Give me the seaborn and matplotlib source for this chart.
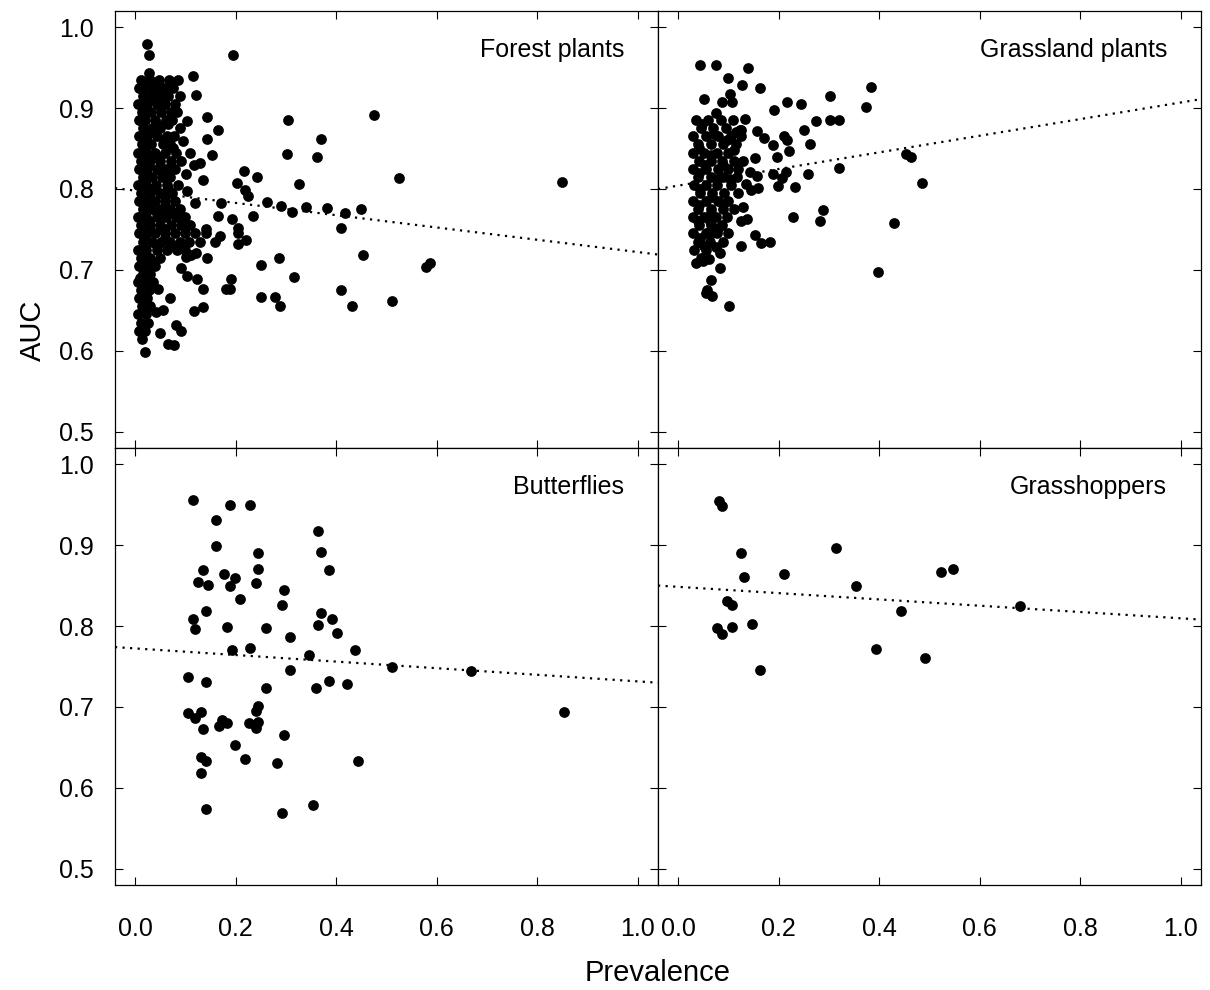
import numpy as np
import pandas as pd
import matplotlib
matplotlib.use("Agg")
import matplotlib.pyplot as plt
import seaborn as sns

# (prevalence, AUC)
forest_pts = [
    # dense column near zero prevalence
    (0.012, 0.935), (0.030, 0.935), (0.048, 0.935), (0.068, 0.935), (0.086, 0.935),
    (0.008, 0.925), (0.022, 0.925), (0.040, 0.925), (0.058, 0.925), (0.075, 0.925),
    (0.015, 0.915), (0.033, 0.915), (0.050, 0.915), (0.066, 0.915), (0.090, 0.915),
    (0.006, 0.905), (0.024, 0.905), (0.043, 0.905), (0.060, 0.905), (0.080, 0.905),
    (0.013, 0.895), (0.031, 0.895), (0.052, 0.895), (0.072, 0.895), (0.084, 0.895),
    (0.008, 0.885), (0.020, 0.885), (0.040, 0.885), (0.062, 0.885), (0.074, 0.885),
    (0.015, 0.875), (0.034, 0.875), (0.050, 0.875), (0.090, 0.875),
    (0.007, 0.865), (0.024, 0.865), (0.044, 0.865), (0.064, 0.865), (0.078, 0.865),
    (0.014, 0.855), (0.032, 0.855), (0.055, 0.855), (0.070, 0.855),
    (0.006, 0.845), (0.022, 0.845), (0.040, 0.845), (0.060, 0.845), (0.082, 0.845),
    (0.012, 0.835), (0.030, 0.835), (0.050, 0.835), (0.072, 0.835), (0.092, 0.835),
    (0.008, 0.825), (0.024, 0.825), (0.044, 0.825), (0.062, 0.825), (0.080, 0.825),
    (0.016, 0.815), (0.034, 0.815), (0.054, 0.815), (0.070, 0.815),
    (0.006, 0.805), (0.022, 0.805), (0.042, 0.805), (0.064, 0.805), (0.085, 0.805),
    (0.012, 0.795), (0.030, 0.795), (0.050, 0.795), (0.074, 0.795),
    (0.008, 0.785), (0.024, 0.785), (0.040, 0.785), (0.060, 0.785), (0.080, 0.785),
    (0.015, 0.775), (0.034, 0.775), (0.052, 0.775), (0.070, 0.775), (0.090, 0.775),
    (0.006, 0.765), (0.022, 0.765), (0.044, 0.765), (0.062, 0.765), (0.082, 0.765), (0.100, 0.765),
    (0.012, 0.755), (0.030, 0.755), (0.050, 0.755), (0.072, 0.755), (0.092, 0.755), (0.110, 0.755),
    (0.008, 0.745), (0.024, 0.745), (0.040, 0.745), (0.060, 0.745), (0.080, 0.745), (0.100, 0.745), (0.120, 0.745),
    (0.015, 0.735), (0.034, 0.735), (0.052, 0.735), (0.070, 0.735), (0.090, 0.735), (0.108, 0.735), (0.130, 0.735),
    (0.006, 0.725), (0.022, 0.725), (0.044, 0.725), (0.064, 0.725), (0.084, 0.725), (0.100, 0.725),
    (0.012, 0.715), (0.030, 0.715), (0.050, 0.715),
    (0.008, 0.705), (0.024, 0.705), (0.040, 0.705),
    (0.015, 0.695), (0.030, 0.695),
    (0.006, 0.685), (0.022, 0.685), (0.036, 0.685),
    (0.012, 0.675), (0.028, 0.675),
    (0.008, 0.665), (0.024, 0.665),
    (0.014, 0.655), (0.030, 0.655),
    (0.006, 0.645), (0.022, 0.645),
    (0.012, 0.635), (0.026, 0.635),
    (0.008, 0.625), (0.020, 0.625),
    (0.014, 0.615),
    # in-between points of the dense column
    (0.018, 0.930), (0.038, 0.920), (0.027, 0.910), (0.052, 0.900), (0.017, 0.890),
    (0.044, 0.880), (0.028, 0.870), (0.058, 0.860), (0.019, 0.850), (0.048, 0.840),
    (0.026, 0.830), (0.053, 0.820), (0.016, 0.810), (0.036, 0.800), (0.060, 0.790),
    (0.018, 0.780), (0.044, 0.770), (0.028, 0.760), (0.058, 0.750), (0.018, 0.740),
    (0.043, 0.730), (0.075, 0.730), (0.060, 0.740), (0.020, 0.720), (0.035, 0.710),
    (0.018, 0.700), (0.010, 0.690), (0.020, 0.670), (0.016, 0.650), (0.018, 0.630),
    (0.066, 0.880), (0.076, 0.850), (0.066, 0.800), (0.074, 0.770),
    # scattered points
    (0.023, 0.979), (0.028, 0.966), (0.194, 0.965), (0.028, 0.943), (0.116, 0.940),
    (0.122, 0.916), (0.144, 0.889), (0.305, 0.885), (0.475, 0.891), (0.104, 0.884),
    (0.165, 0.873), (0.095, 0.859), (0.143, 0.862), (0.370, 0.862), (0.109, 0.844),
    (0.154, 0.842), (0.302, 0.843), (0.361, 0.840), (0.129, 0.832), (0.216, 0.822),
    (0.242, 0.815), (0.203, 0.807), (0.327, 0.806), (0.135, 0.811), (0.219, 0.799),
    (0.225, 0.791), (0.104, 0.797), (0.120, 0.783), (0.171, 0.783), (0.262, 0.784),
    (0.290, 0.779), (0.339, 0.778), (0.313, 0.772), (0.382, 0.776), (0.418, 0.770),
    (0.449, 0.775), (0.164, 0.766), (0.193, 0.763), (0.234, 0.767), (0.141, 0.751),
    (0.204, 0.752), (0.410, 0.752), (0.525, 0.813), (0.850, 0.808), (0.578, 0.704),
    (0.586, 0.708), (0.510, 0.662), (0.141, 0.745), (0.204, 0.745), (0.169, 0.742),
    (0.158, 0.735), (0.221, 0.737), (0.204, 0.732), (0.111, 0.719), (0.122, 0.721),
    (0.101, 0.716), (0.144, 0.715), (0.250, 0.706), (0.287, 0.715), (0.454, 0.718),
    (0.091, 0.702), (0.104, 0.693), (0.124, 0.689), (0.190, 0.689), (0.317, 0.691),
    (0.136, 0.676), (0.180, 0.676), (0.188, 0.676), (0.046, 0.677), (0.070, 0.665),
    (0.250, 0.667), (0.278, 0.666), (0.289, 0.656), (0.410, 0.675), (0.432, 0.655),
    (0.118, 0.649), (0.135, 0.654), (0.056, 0.651), (0.081, 0.632), (0.091, 0.625),
    (0.049, 0.622), (0.066, 0.609), (0.078, 0.607), (0.020, 0.598), (0.118, 0.829),
    (0.102, 0.818), (0.041, 0.648),
]

grassland_pts = [
    # dense cluster
    (0.035, 0.885), (0.060, 0.885), (0.085, 0.885), (0.110, 0.885),
    (0.045, 0.875), (0.070, 0.875), (0.095, 0.875),
    (0.030, 0.865), (0.055, 0.865), (0.080, 0.865), (0.105, 0.865), (0.125, 0.865),
    (0.040, 0.855), (0.065, 0.855), (0.090, 0.855), (0.115, 0.855),
    (0.030, 0.845), (0.052, 0.845), (0.078, 0.845), (0.100, 0.845),
    (0.042, 0.835), (0.066, 0.835), (0.088, 0.835), (0.112, 0.835), (0.130, 0.835),
    (0.030, 0.825), (0.055, 0.825), (0.080, 0.825), (0.100, 0.825),
    (0.040, 0.815), (0.065, 0.815), (0.090, 0.815), (0.118, 0.815),
    (0.032, 0.805), (0.056, 0.805), (0.078, 0.805), (0.105, 0.805),
    (0.044, 0.795), (0.068, 0.795), (0.092, 0.795), (0.120, 0.795),
    (0.030, 0.785), (0.055, 0.785), (0.080, 0.785), (0.100, 0.785),
    (0.040, 0.775), (0.065, 0.775), (0.090, 0.775), (0.112, 0.775),
    (0.030, 0.765), (0.052, 0.765), (0.076, 0.765), (0.098, 0.765),
    (0.042, 0.755), (0.066, 0.755), (0.088, 0.755),
    (0.030, 0.745), (0.055, 0.745), (0.078, 0.745),
    (0.040, 0.735), (0.064, 0.735), (0.090, 0.735),
    (0.032, 0.725), (0.056, 0.725),
    (0.045, 0.715),
    # in-between points of the dense cluster
    (0.048, 0.880), (0.072, 0.868), (0.098, 0.860), (0.042, 0.850), (0.066, 0.842),
    (0.090, 0.830), (0.054, 0.830), (0.042, 0.820), (0.078, 0.812), (0.104, 0.812),
    (0.044, 0.800), (0.068, 0.790), (0.090, 0.782), (0.042, 0.780), (0.066, 0.770),
    (0.040, 0.760), (0.064, 0.760), (0.080, 0.752), (0.044, 0.740), (0.068, 0.745),
    (0.052, 0.730), (0.075, 0.728), (0.036, 0.708), (0.115, 0.870), (0.112, 0.848),
    (0.120, 0.825),
    # scattered points
    (0.044, 0.953), (0.076, 0.953), (0.139, 0.950), (0.099, 0.937), (0.128, 0.928),
    (0.163, 0.925), (0.384, 0.926), (0.051, 0.911), (0.103, 0.917), (0.303, 0.915),
    (0.088, 0.907), (0.107, 0.907), (0.217, 0.907), (0.245, 0.905), (0.191, 0.898),
    (0.374, 0.901), (0.075, 0.894), (0.134, 0.886), (0.275, 0.884), (0.303, 0.885),
    (0.320, 0.885), (0.125, 0.873), (0.157, 0.871), (0.251, 0.873), (0.170, 0.863),
    (0.211, 0.865), (0.217, 0.860), (0.189, 0.854), (0.263, 0.856), (0.221, 0.847),
    (0.454, 0.843), (0.464, 0.839), (0.197, 0.840), (0.153, 0.838), (0.485, 0.807),
    (0.319, 0.826), (0.259, 0.819), (0.215, 0.821), (0.207, 0.813), (0.188, 0.819),
    (0.157, 0.816), (0.142, 0.821), (0.199, 0.804), (0.233, 0.802), (0.159, 0.801),
    (0.144, 0.799), (0.136, 0.806), (0.288, 0.774), (0.283, 0.761), (0.228, 0.765),
    (0.429, 0.758), (0.397, 0.697), (0.137, 0.763), (0.125, 0.761), (0.153, 0.743),
    (0.164, 0.733), (0.182, 0.734), (0.125, 0.729), (0.083, 0.702), (0.065, 0.688),
    (0.058, 0.675), (0.067, 0.668), (0.056, 0.672), (0.101, 0.655), (0.049, 0.711),
    (0.061, 0.714), (0.083, 0.721), (0.100, 0.746), (0.129, 0.778), (0.123, 0.873),
]

butterfly_pts = [
    (0.115, 0.956), (0.188, 0.950), (0.229, 0.949), (0.161, 0.931), (0.364, 0.918),
    (0.161, 0.899), (0.245, 0.890), (0.370, 0.892), (0.245, 0.871), (0.136, 0.869),
    (0.386, 0.869), (0.177, 0.864), (0.198, 0.859), (0.125, 0.854), (0.146, 0.851),
    (0.188, 0.849), (0.240, 0.853), (0.297, 0.845), (0.209, 0.834), (0.292, 0.826),
    (0.141, 0.818), (0.370, 0.816), (0.392, 0.809), (0.115, 0.809), (0.120, 0.796),
    (0.182, 0.799), (0.364, 0.801), (0.261, 0.797), (0.402, 0.791), (0.308, 0.787),
    (0.193, 0.771), (0.229, 0.773), (0.437, 0.770), (0.345, 0.764), (0.511, 0.750),
    (0.668, 0.745), (0.308, 0.746), (0.105, 0.737), (0.141, 0.731), (0.261, 0.723),
    (0.360, 0.723), (0.385, 0.732), (0.421, 0.729), (0.245, 0.701), (0.240, 0.695),
    (0.105, 0.692), (0.120, 0.686), (0.131, 0.694), (0.136, 0.673), (0.172, 0.684),
    (0.167, 0.676), (0.182, 0.680), (0.227, 0.680), (0.245, 0.681), (0.240, 0.674),
    (0.297, 0.666), (0.198, 0.653), (0.219, 0.636), (0.131, 0.638), (0.141, 0.633),
    (0.282, 0.631), (0.443, 0.633), (0.131, 0.618), (0.141, 0.574), (0.292, 0.569),
    (0.354, 0.579), (0.853, 0.694),
]

grasshopper_pts = [
    (0.082, 0.955), (0.088, 0.948), (0.126, 0.890), (0.314, 0.897), (0.131, 0.861),
    (0.211, 0.864), (0.522, 0.867), (0.546, 0.870), (0.354, 0.849), (0.097, 0.831),
    (0.107, 0.826), (0.680, 0.825), (0.443, 0.818), (0.077, 0.797), (0.088, 0.790),
    (0.107, 0.799), (0.146, 0.802), (0.393, 0.772), (0.492, 0.761), (0.162, 0.746),
]

panel_names = ["Forest plants", "Grassland plants", "Butterflies", "Grasshoppers"]

# fitted lines, AUC at the two ends of the x range
fit_x = [-0.04, 1.04]
forest_fit = [0.801, 0.719]
grassland_fit = [0.800, 0.911]
butterfly_fit = [0.774, 0.730]
grasshopper_fit = [0.850, 0.808]

x_ticks = [0.0, 0.2, 0.4, 0.6, 0.8, 1.0]
y_ticks = [0.5, 0.6, 0.7, 0.8, 0.9, 1.0]

sns.set_theme(style="ticks")
plt.rcParams['font.family'] = ['Liberation Sans', 'DejaVu Sans']
plt.rcParams['text.color'] = 'black'
plt.rcParams['xtick.color'] = 'black'
plt.rcParams['ytick.color'] = 'black'
plt.rcParams['axes.labelcolor'] = 'black'

fig, axes = plt.subplots(2, 2, figsize=(12.1, 9.9), dpi=100, sharex=True, sharey=True)
fig.subplots_adjust(left=0.095, right=0.9926, top=0.989, bottom=0.106, wspace=0, hspace=0)

all_pts = [forest_pts, grassland_pts, butterfly_pts, grasshopper_pts]
all_fits = [forest_fit, grassland_fit, butterfly_fit, grasshopper_fit]

for ax, pts, fit, name in zip(axes.flat, all_pts, all_fits, panel_names):
    df = pd.DataFrame(pts, columns=["Prevalence", "AUC"])
    sns.scatterplot(data=df, x="Prevalence", y="AUC", ax=ax, color="black",
                    s=60, linewidth=0, zorder=3)
    ax.plot(fit_x, fit, color="black", lw=1.6, linestyle=(0, (1, 2.4)), zorder=2)
    ax.set_xlim(-0.04, 1.04)
    ax.set_ylim(0.48, 1.02)
    ax.set_xticks(x_ticks)
    ax.set_yticks(y_ticks)
    ax.xaxis.set_major_formatter("{x:.1f}")
    ax.yaxis.set_major_formatter("{x:.1f}")
    ax.set_xlabel("")
    ax.set_ylabel("")
    ax.tick_params(direction="in", top=True, right=True, length=5.5, width=0.8,
                   labelsize=18, color="black", labelcolor="black")
    ax.tick_params(axis="x", pad=23)
    ax.tick_params(axis="y", pad=15)
    for sp in ax.spines.values():
        sp.set_color("black")
        sp.set_linewidth(0.9)
    ax.text(0.9375, 0.91, name, transform=ax.transAxes, ha="right", va="center",
            fontsize=18, color="black")

fig.text(0.5438, 0.017, "Prevalence", ha="center", va="center", fontsize=21, color="black")
fig.text(0.027, 0.666, "AUC", ha="center", va="center", rotation=90, fontsize=21,
         color="black")

fig.savefig("out.png", dpi=100)
